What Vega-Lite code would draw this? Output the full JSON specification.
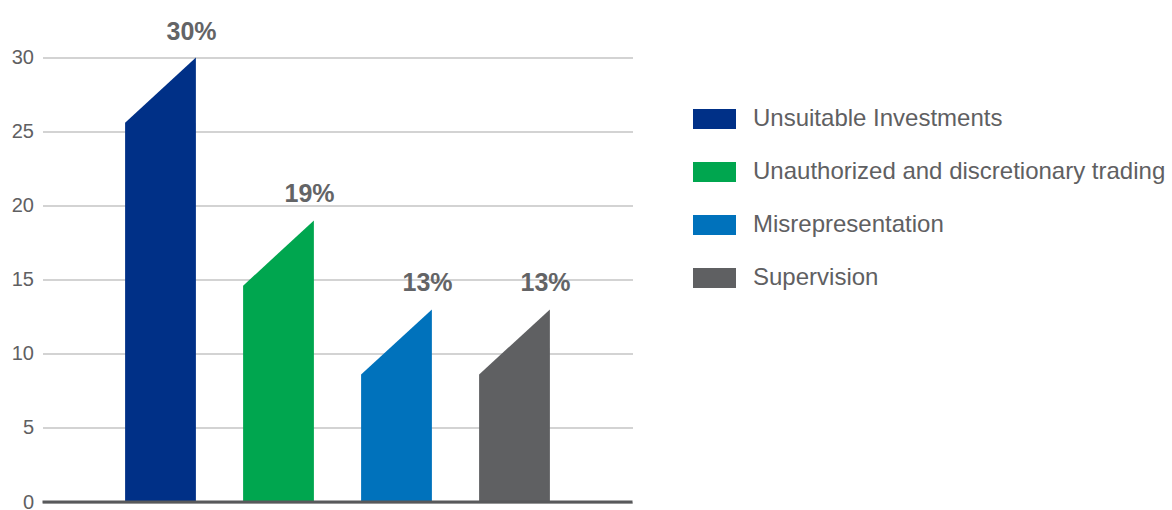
{
  "$schema": "https://vega.github.io/schema/vega-lite/v6.json",
  "autosize": "none",
  "width": 590,
  "height": 444.5,
  "padding": {"left": 42.5, "top": 57.5, "right": 539.5, "bottom": 8},
  "background": "white",
  "config": {
    "view": {"stroke": null},
    "font": "Liberation Sans",
    "axis": {"labelFont": "Liberation Sans"},
    "legend": {"labelFont": "Liberation Sans"}
  },
  "datasets": {
    "edges": [
      {"category": "Unsuitable Investments", "x": 0.7, "y": 25.6},
      {"category": "Unsuitable Investments", "x": 1.3, "y": 30},
      {"category": "Unauthorized and discretionary trading", "x": 1.7, "y": 14.6},
      {"category": "Unauthorized and discretionary trading", "x": 2.3, "y": 19},
      {"category": "Misrepresentation", "x": 2.7, "y": 8.6},
      {"category": "Misrepresentation", "x": 3.3, "y": 13},
      {"category": "Supervision", "x": 3.7, "y": 8.6},
      {"category": "Supervision", "x": 4.3, "y": 13}
    ],
    "labels": [
      {"category": "Unsuitable Investments", "x": 1, "value": 30, "label": "30%"},
      {"category": "Unauthorized and discretionary trading", "x": 2, "value": 19, "label": "19%"},
      {"category": "Misrepresentation", "x": 3, "value": 13, "label": "13%"},
      {"category": "Supervision", "x": 4, "value": 13, "label": "13%"}
    ],
    "baseline": [{"y": 0}]
  },
  "layer": [
    {
      "data": {"name": "edges"},
      "mark": {"type": "area", "interpolate": "linear", "opacity": 1},
      "encoding": {
        "x": {"field": "x", "type": "quantitative", "scale": {"domain": [0, 5], "nice": false, "zero": false}, "axis": null},
        "y": {
          "field": "y", "type": "quantitative", "stack": null,
          "scale": {"domain": [0, 30], "nice": false},
          "axis": {
            "values": [0, 5, 10, 15, 20, 25, 30],
            "title": null,
            "domain": false,
            "ticks": false,
            "labelFontSize": 20,
            "labelColor": "#5f6062",
            "labelPadding": 9,
            "gridColor": "#c4c4c4",
            "gridWidth": 1.5
          }
        },
        "y2": {"datum": 0},
        "color": {
          "field": "category", "type": "nominal",
          "scale": {
            "domain": ["Unsuitable Investments", "Unauthorized and discretionary trading", "Misrepresentation", "Supervision"],
            "range": ["#003087", "#00a64f", "#0072bc", "#5f6062"]
          },
          "legend": {
            "title": null,
            "orient": "none",
            "legendX": 650.5,
            "legendY": 40,
            "padding": 0,
            "symbolType": "M-1,-0.465H1V0.465H-1Z",
            "symbolSize": 1849,
            "symbolStrokeWidth": 0,
            "symbolOpacity": 1,
            "labelFontSize": 24,
            "labelColor": "#5f6062",
            "labelOffset": 17,
            "rowPadding": 19,
            "labelLimit": 600
          }
        }
      }
    },
    {
      "data": {"name": "baseline"},
      "mark": {"type": "rule", "color": "#58595b", "strokeWidth": 3},
      "encoding": {"y": {"field": "y", "type": "quantitative"}}
    },
    {
      "data": {"name": "labels"},
      "mark": {"type": "text", "fontSize": 25, "fontWeight": "bold", "color": "#636466", "dx": 31, "dy": -18, "baseline": "alphabetic", "align": "center"},
      "encoding": {
        "x": {"field": "x", "type": "quantitative"},
        "y": {"field": "value", "type": "quantitative"},
        "text": {"field": "label"}
      }
    }
  ]
}
